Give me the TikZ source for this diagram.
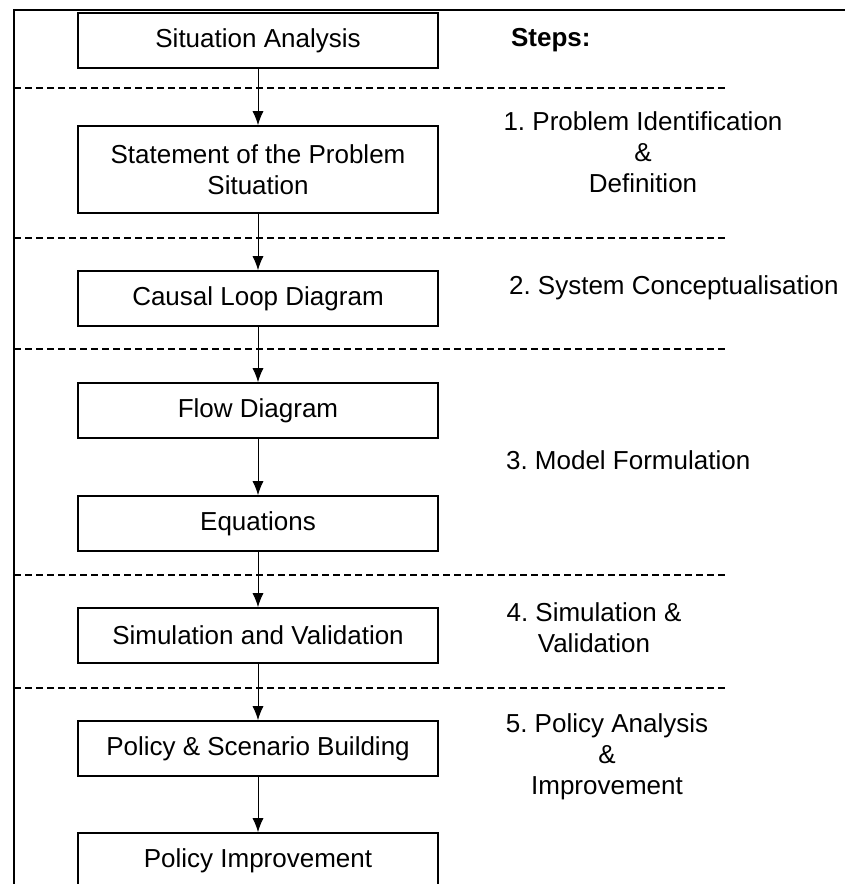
\documentclass[tikz,border=0pt]{standalone}
\usepackage{fontspec}
\setmainfont{Liberation Sans}
\usetikzlibrary{arrows.meta}
\frenchspacing

\begin{document}
\begin{tikzpicture}[x=0.5pt,y=-0.5pt,font=\fontsize{13}{15.5}\selectfont]
      \tikzstyle{stepbox}=[rectangle,draw,line width=0.8pt,
        minimum width=180pt,minimum height=27.5pt,inner sep=0pt,
        align=center,fill=white]
      \tikzstyle{phase}=[align=center]
      \tikzstyle{sep}=[dash pattern=on 3.5pt off 2pt,line width=0.7pt]
      \tikzstyle{ar}=[->,>={Latex[length=7pt,width=5.5pt]},line width=0.5pt]

      \clip (0,0) rectangle (845,884);
      \fill[white] (0,0) rectangle (845,884);

      % frame round the chart
      \draw[line width=1pt] (14,884) -- (14,10) -- (845,10);

      \draw[sep] (14,88)  -- (725,88);
      \draw[sep] (14,238) -- (725,238);
      \draw[sep] (14,349) -- (725,349);
      \draw[sep] (14,575) -- (725,575);
      \draw[sep] (14,688) -- (725,688);

      \node[stepbox] (SA)  at (258,40.5)  {Situation Analysis};
      \node[stepbox,minimum height=43.5pt] (SP) at (258,169.5)
           {Statement of the Problem\\Situation};
      \node[stepbox] (CLD) at (258,298.5) {Causal Loop Diagram};
      \node[stepbox] (FD)  at (258,410.5) {Flow Diagram};
      \node[stepbox] (EQ)  at (258,523.5) {Equations};
      \node[stepbox] (SV)  at (258,635.5) {Simulation and Validation};
      \node[stepbox] (PSB) at (258,748.5) {Policy \& Scenario Building};
      \node[stepbox] (PI)  at (258,860.5) {Policy Improvement};

      \node[anchor=west] (steps) at (504,40) {\textbf{Steps:}};
      \node[phase] (P1) at (643,152) {1. Problem Identification\\\&\\Definition};
      \node[anchor=west] (P2) at (502,288) {2. System Conceptualisation};
      \node[anchor=west] (P3) at (499,460) {3. Model Formulation};
      \node[phase] (P4) at (594,628) {4. Simulation \&\\Validation};
      \node[phase] (P5) at (607,757) {5. Policy Analysis\\\&\\Improvement};

      \draw[ar] (SA)  -- (SP);
      \draw[ar] (SP)  -- (CLD);
      \draw[ar] (CLD) -- (FD);
      \draw[ar] (FD)  -- (EQ);
      \draw[ar] (EQ)  -- (SV);
      \draw[ar] (SV)  -- (PSB);
      \draw[ar] (PSB) -- (PI);

\end{tikzpicture}
\end{document}
